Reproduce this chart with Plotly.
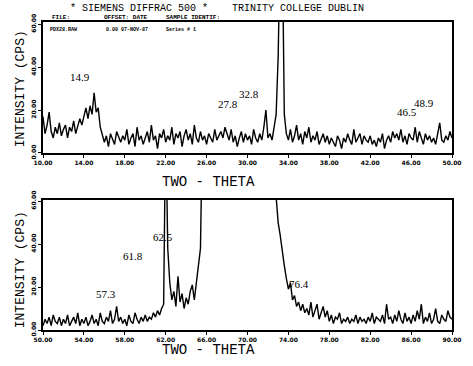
import plotly.graph_objects as go

# ---------------- data ----------------
top_start = 10.0
bot_start = 50.0
theta_step = 0.2

top_counts = [
    17, 9, 13, 19, 10, 7, 12, 9, 14, 8,        # 10.0 - 11.8
    11, 13, 7, 12, 10, 15, 9, 12, 16, 13,      # 12.0 - 13.8
    17, 21, 16, 22, 18, 28, 19, 21, 12, 8,     # 14.0 - 15.8
    5, 8, 3, 9, 6, 4, 10, 7, 5, 8,             # 16.0 - 17.8
    6, 11, 4, 7, 9, 3, 12, 6, 8, 4,            # 18.0 - 19.8
    7, 10, 5, 13, 6, 8, 2, 9, 7, 11,           # 20.0 - 21.8
    5, 8, 6, 12, 4, 9, 7, 10, 3, 8,            # 22.0 - 23.8
    11, 6, 9, 4, 13, 7, 5, 10, 6, 8,           # 24.0 - 25.8
    4, 9, 7, 5, 11, 6, 8, 10, 7, 12,           # 26.0 - 27.8
    9, 6, 11, 5, 8, 3, 7, 10, 5, 9,            # 28.0 - 29.8
    6, 8, 4, 11, 7, 5, 9, 6, 12, 20,           # 30.0 - 31.8
    7, 9, 6, 12, 18, 45, 100, 100, 18, 9,      # 32.0 - 33.8
    6, 11, 5, 8, 13, 6, 9, 4, 10, 7,           # 34.0 - 35.8
    12, 5, 8, 6, 10, 4, 7, 9, 5, 8,            # 36.0 - 37.8
    4, 7, 5, 3, 8, 6, 2, 7, 5, 9,              # 38.0 - 39.8
    6, 4, 11, 5, 7, 9, 4, 8, 6, 5,             # 40.0 - 41.8
    8, 4, 6, 3, 7, 5, 9, 2, 6, 8,              # 42.0 - 43.8
    5, 10, 7, 9, 6, 11, 5, 8, 4, 9,            # 44.0 - 45.8
    7, 6, 12, 5, 10, 7, 4, 9, 6, 8,            # 46.0 - 47.8
    5, 7, 4, 9, 14, 6, 5, 8, 6, 10,            # 48.0 - 49.8
    7,                                          # 50.0
]

bot_counts = [
    2, 5, 3, 6, 2, 7, 4, 3, 6, 2,              # 50.0 - 51.8
    5, 3, 7, 2, 4, 6, 3, 8, 2, 5,              # 52.0 - 53.8
    3, 6, 2, 4, 7, 3, 5, 2, 8, 4,              # 54.0 - 55.8
    3, 6, 4, 9, 3, 5, 11, 4, 6, 3,             # 56.0 - 57.8
    5, 2, 7, 4, 3, 8, 5, 3, 6, 4,              # 58.0 - 59.8
    7, 4, 6, 5, 8, 6, 9, 7, 10, 12,            # 60.0 - 61.8
    100, 38, 22, 14, 18, 11, 25, 13, 17, 10,   # 62.0 - 63.8
    15, 12, 18, 21, 14, 22, 29, 38, 100, 100,  # 64.0 - 65.8
    100, 100, 100, 100, 100, 100, 100, 100, 100, 100,  # 66.0 - 67.8
    100, 100, 100, 100, 100, 100, 100, 100, 100, 100,  # 68.0 - 69.8
    100, 100, 100, 100, 100, 100, 100, 100, 100, 100,  # 70.0 - 71.8
    100, 100, 100, 100, 62, 50, 44, 36, 30, 24,        # 72.0 - 73.8
    19, 22, 14, 16, 11, 13, 9, 12, 8, 10,      # 74.0 - 75.8
    7, 13, 6, 9, 12, 5, 8, 11, 6, 9,           # 76.0 - 77.8
    4, 7, 3, 6, 5, 8, 3, 5, 4, 6,              # 78.0 - 79.8
    3, 5, 4, 7, 3, 6, 4, 5, 3, 6,              # 80.0 - 81.8
    4, 8, 3, 6, 5, 4, 7, 3, 12, 5,             # 82.0 - 83.8
    6, 3, 7, 4, 9, 5, 3, 8, 4, 6,              # 84.0 - 85.8
    3, 7, 4, 9, 5, 12, 3, 6, 4, 8,             # 86.0 - 87.8
    3, 5, 10, 4, 3, 7, 5, 4, 9, 6,             # 88.0 - 89.8
    5,                                          # 90.0
]

top_ticks = [10, 14, 18, 22, 26, 30, 34, 38, 42, 46, 50]
bot_ticks = [50, 54, 58, 62, 66, 70, 74, 78, 82, 86, 90]
y_ticks = [0, 20, 40, 60]

top_peak_labels = ["14.9", "27.8", "32.8", "46.5", "48.9"]
top_peak_x = [13.6, 28.1, 30.1, 45.6, 47.3]
top_peak_y = [35.3, 22.8, 27.4, 19.1, 23.3]
bot_peak_labels = ["57.3", "61.8", "62.5", "76.4"]
bot_peak_x = [56.2, 58.8, 61.7, 75.0]
bot_peak_y = [16.7, 34.4, 43.3, 21.4]

theta_top = [round(top_start + i * theta_step, 1) for i in range(len(top_counts))]
theta_bot = [round(bot_start + i * theta_step, 1) for i in range(len(bot_counts))]

# ---------------- figure ----------------
fig = go.Figure()
fig.add_trace(go.Scatter(x=theta_top, y=top_counts, mode="lines",
                         line=dict(color="black", width=1.4),
                         xaxis="x", yaxis="y", showlegend=False))
fig.add_trace(go.Scatter(x=theta_bot, y=bot_counts, mode="lines",
                         line=dict(color="black", width=1.4),
                         xaxis="x2", yaxis="y2", showlegend=False))

tickfont = dict(family="DejaVu Sans", size=6, color="black", weight="bold")
axis_common = dict(showline=True, mirror=True, linecolor="black", linewidth=1.5,
                   ticks="outside", ticklen=3, tickwidth=1, tickcolor="black",
                   showgrid=False, zeroline=False, tickfont=tickfont)

fig.update_layout(
    width=473, height=366,
    margin=dict(l=43, r=16, t=22, b=36),
    paper_bgcolor="white", plot_bgcolor="white",
    xaxis=dict(domain=[0, 1], anchor="y", range=[10, 50],
               tickvals=top_ticks, ticktext=[f"{v:.2f}" for v in top_ticks], **axis_common),
    yaxis=dict(domain=[0.5747, 1], anchor="x", range=[0, 61],
               tickvals=y_ticks, ticktext=[f"{v:.2f}" for v in y_ticks],
               tickangle=-90, **axis_common),
    xaxis2=dict(domain=[0, 1], anchor="y2", range=[50, 90],
                tickvals=bot_ticks, ticktext=[f"{v:.2f}" for v in bot_ticks], **axis_common),
    yaxis2=dict(domain=[0, 0.4221], anchor="x2", range=[0, 60.5],
                tickvals=y_ticks, ticktext=[f"{v:.2f}" for v in y_ticks],
                tickangle=-90, **axis_common),
)

annots = []
serif = dict(family="Liberation Serif", size=11, color="black")
for t, x, y in zip(top_peak_labels, top_peak_x, top_peak_y):
    annots.append(dict(text=t, x=x, y=y, xref="x", yref="y", showarrow=False, font=serif))
for t, x, y in zip(bot_peak_labels, bot_peak_x, bot_peak_y):
    annots.append(dict(text=t, x=x, y=y, xref="x2", yref="y2", showarrow=False, font=serif))

mono = "Liberation Mono"
def paper(px, py, text, size, anchor="left", angle=0, bold=False):
    return dict(text=text, x=(px - 43) / 414, y=(330 - py) / 308, xref="paper", yref="paper",
                xanchor=anchor, yanchor="middle", showarrow=False, textangle=angle,
                font=dict(family=mono, size=size, color="black",
                          weight="bold" if bold else "normal"))

annots += [
    paper(68, 8, "* SIEMENS DIFFRAC 500 *", 10),
    paper(232, 8, "TRINITY COLLEGE DUBLIN", 10),
    paper(50, 17, "FILE:", 6, bold=True),
    paper(103, 17, "OFFSET: DATE", 6, bold=True),
    paper(165, 17, "SAMPLE IDENTIF:", 6, bold=True),
    paper(48, 30, "PDX28.RAW", 5, bold=True),
    paper(105, 30, "0.00 07-NOV-87", 5, bold=True),
    paper(165, 30, "Series # 1", 5, bold=True),
    paper(211, 182, "TWO - THETA", 14, anchor="center"),
    paper(211, 350, "TWO - THETA", 14, anchor="center"),
    paper(20, 89, "INTENSITY (CPS)", 13, anchor="center", angle=-90),
    paper(20, 270, "INTENSITY (CPS)", 13, anchor="center", angle=-90),
]
fig.update_layout(annotations=annots)

# remove the default page margin so the figure sits at the window's top-left corner
fig.write_html("out.html", config={"displayModeBar": False},
               post_script="document.body.style.margin='0px';")
